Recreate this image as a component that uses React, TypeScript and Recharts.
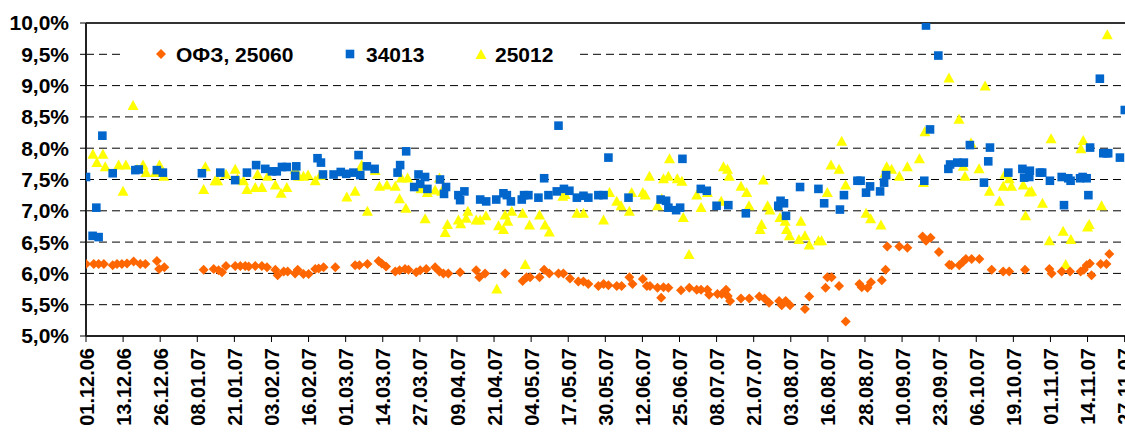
import { CartesianGrid, ReferenceLine, Scatter, ScatterChart, XAxis, YAxis } from 'recharts';

// axis labels (one tick per ~13 days, evenly spaced as in the source chart)
const dateLabels = [
  '01.12.06', '13.12.06', '26.12.06', '08.01.07', '21.01.07', '03.02.07', '16.02.07',
  '01.03.07', '14.03.07', '27.03.07', '09.04.07', '21.04.07', '04.05.07', '17.05.07',
  '30.05.07', '12.06.07', '25.06.07', '08.07.07', '21.07.07', '03.08.07', '16.08.07',
  '28.08.07', '10.09.07', '23.09.07', '06.10.07', '19.10.07', '01.11.07', '14.11.07',
  '27.11.07',
];
const TICK_STEP = 12.93;
const xTicks = dateLabels.map((_, i) => i * TICK_STEP);
const yTicks = [5, 5.5, 6, 6.5, 7, 7.5, 8, 8.5, 9, 9.5, 10];

// [position in days from 01.12.06, yield %]
const ofz25060: [number, number][] = [
  [0, 6.15], [2.7, 6.15], [4.4, 6.15], [6.2, 6.15], [9.3, 6.13], [10.8, 6.15], [12.5, 6.15], [14.3, 6.16],
  [16.6, 6.19], [18.9, 6.15], [20.7, 6.15], [24.7, 6.2], [25.5, 6.07], [27.3, 6.1],
  [41, 6.06], [44.5, 6.07], [46.2, 6.05], [47.4, 6.02], [48.8, 6.12], [52, 6.12], [53.8, 6.12], [55.5, 6.12],
  [56.7, 6.11], [59, 6.12], [61.3, 6.12], [63.1, 6.1], [66, 6.06], [66.8, 5.97], [68.9, 6.03], [70.3, 6.03],
  [72.9, 6.0], [73.8, 6.06], [75.8, 5.99], [77.6, 5.99], [79.9, 6.07], [81.1, 6.08], [82.8, 6.1], [86.9, 6.1],
  [93.8, 6.13], [95.3, 6.13], [98.1, 6.15], [102, 6.2], [103.1, 6.16], [104.6, 6.11], [107.8, 6.03], [109.3, 6.05],
  [111.2, 6.07], [112.4, 6.06], [115.1, 6.02], [116.5, 6.05], [118.6, 6.07], [121.7, 6.1], [123.2, 6.03],
  [124.6, 6.0], [126.3, 6.0], [130.4, 6.02], [136, 6.05], [137.1, 5.94], [139.1, 6.0], [146.1, 6.0],
  [152.2, 5.88], [153.6, 5.94], [154.8, 5.94], [158.1, 5.94], [159.7, 6.06], [161.5, 6.0], [164.7, 6.0],
  [166.4, 6.0], [168.7, 5.92], [171.6, 5.87], [173.4, 5.87], [175.1, 5.83], [178.6, 5.8],
  [180.4, 5.83], [182.1, 5.81], [185, 5.8], [186.7, 5.8], [189.4, 5.94], [190.5, 5.83], [194.1, 5.91],
  [195.5, 5.8], [196.6, 5.8], [199.2, 5.77], [200.5, 5.61], [201.3, 5.78], [203, 5.77], [207.4, 5.73],
  [210.3, 5.77], [212.9, 5.74], [214.4, 5.74], [216.6, 5.74], [217.2, 5.66], [220.1, 5.67], [221.6, 5.67],
  [223.1, 5.74], [223.7, 5.64], [224.5, 5.56], [228.3, 5.6], [231.2, 5.6], [234.7, 5.63], [236.5, 5.6],
  [238.1, 5.53], [241.6, 5.56], [242.5, 5.49], [243.9, 5.56], [245.4, 5.49], [250.6, 5.43], [252.1, 5.63],
  [257.8, 5.77], [258.4, 5.94], [259.9, 5.94], [262.5, 5.8], [264.8, 5.23], [269.6, 5.83],
  [270.4, 5.78], [272.4, 5.77], [273.6, 5.86], [277.4, 5.89], [278.7, 6.06], [279.3, 6.43], [283.5, 6.43],
  [286.3, 6.41], [291.6, 6.59], [292.8, 6.52], [294.4, 6.57], [297.3, 6.34], [300.9, 6.14], [301.7, 6.13],
  [304.4, 6.13], [305.8, 6.19], [306.7, 6.23], [308.7, 6.23], [311.4, 6.23], [315.7, 6.06], [319.7, 6.03],
  [321.8, 6.03], [327.3, 6.06], [335.8, 6.07], [336.6, 6.0], [340.1, 6.03], [343, 6.03], [346.7, 6.03],
  [347.8, 6.06], [348.8, 6.13], [349.9, 6.16], [350.5, 5.97], [353.7, 6.15], [355.7, 6.15], [356.7, 6.31],
];

const ofz34013: [number, number][] = [
  [0, 7.54], [2.3, 6.6], [3.6, 7.05], [4.4, 6.58], [5.7, 8.2], [9.3, 7.6], [17.2, 7.65], [18.4, 7.66],
  [24.7, 7.65], [26.8, 7.61], [40.4, 7.6], [46.8, 7.61], [52, 7.49], [56.1, 7.61], [59.3, 7.73], [62.5, 7.67],
  [64.8, 7.63], [66.5, 7.63], [68.3, 7.7], [70, 7.7], [72.9, 7.56], [73.3, 7.71], [80.7, 7.84], [81.9, 7.77],
  [82.6, 7.58], [86.3, 7.58], [88.8, 7.62],
  [90.7, 7.59], [93.2, 7.61], [95, 7.89], [95.6, 7.57], [97.9, 7.71], [100.6, 7.67], [108.6, 7.61],
  [109.5, 7.73], [111.6, 7.95], [114.4, 7.38], [115.9, 7.58], [116.5, 7.43], [118.2, 7.54], [119, 7.35],
  [123.4, 7.5], [124.8, 7.27], [125.5, 7.38], [129.8, 7.25], [130.4, 7.17], [131.9, 7.31], [137.4, 7.18],
  [139.5, 7.15], [143, 7.18], [145.5, 7.28], [146.7, 7.25], [148.1, 7.15], [151.9, 7.18], [152.7, 7.25],
  [154.2, 7.25], [157.7, 7.21], [159.7, 7.52], [161.2, 7.25], [164.1, 7.31], [164.7, 8.36], [166.6, 7.35],
  [168.5, 7.32], [171.1, 7.21], [173.4, 7.24], [175.1, 7.21], [178.6, 7.25],
  [180.4, 7.25], [182.1, 7.85], [189.1, 7.21], [200.3, 7.18], [202.2, 7.16], [203, 7.05], [205.7, 7.01],
  [207.1, 7.05], [207.9, 7.83], [214.3, 7.35], [216.4, 7.32], [219.8, 7.08], [223.9, 7.09], [230, 6.96],
  [241.3, 7.08], [242.1, 7.16], [243.3, 7.12], [244, 6.92], [248.9, 7.38], [255.3, 7.35], [257.3, 7.12],
  [262.8, 7.02], [264.2, 7.25], [268.9, 7.48], [270, 7.48],
  [271.9, 7.29], [273.3, 7.39], [276.8, 7.31], [278.2, 7.45], [278.9, 7.57], [292.2, 7.48], [292.8, 9.96],
  [294.2, 8.3], [297.1, 9.48], [300.6, 7.67], [301.2, 7.74], [303.7, 7.77], [306, 7.77], [308.1, 8.05],
  [313, 7.45], [314.5, 7.79], [315.1, 8.01], [321.5, 7.61], [326.4, 7.67], [327, 7.53], [328.8, 7.54],
  [329, 7.64], [332.5, 7.61], [333.3, 7.61], [336, 7.48], [340.1, 7.54], [340.9, 7.09], [342.4, 7.52],
  [343.2, 7.48], [346.5, 7.52], [347.4, 7.54], [348.8, 7.52], [349.4, 7.25], [350, 8.01], [353.4, 9.11],
  [354.6, 7.92], [355.7, 7.92], [356.3, 7.92], [360.4, 7.85], [362.1, 8.61],
];

const ofz25012: [number, number][] = [
  [2.4, 7.91], [3.8, 7.78], [5.9, 7.91], [6.7, 7.71], [11.4, 7.74], [12.9, 7.32], [13.9, 7.74], [16.4, 8.69],
  [17.8, 7.67], [19.9, 7.74], [20.9, 7.62], [24.2, 7.62], [25.6, 7.74], [27.1, 7.56], [41, 7.35], [41.6, 7.71],
  [45, 7.49], [45.9, 7.49], [48.8, 7.59], [52, 7.67], [52.8, 7.52], [54.9, 7.49], [56.1, 7.35], [59, 7.38],
  [59.8, 7.59], [61.3, 7.38], [63.3, 7.56], [66, 7.42], [68, 7.29], [70, 7.38], [72.9, 7.67], [74.1, 7.56],
  [75.8, 7.56], [77.4, 7.58], [79.9, 7.49], [81.6, 7.57],
  [90.9, 7.23], [93.8, 7.32], [95.3, 7.65], [96.1, 7.74], [98.1, 7.0], [100.8, 7.65], [102.3, 7.4],
  [104.9, 7.42], [107.8, 7.4], [109.3, 7.2], [109.9, 7.53], [111.5, 7.05], [112.1, 7.53], [116.7, 7.36],
  [118.2, 6.88], [119, 7.3], [121.7, 7.34], [123.2, 7.53], [124, 7.32], [125.2, 6.66], [126, 6.79],
  [129.8, 6.86], [130.6, 6.8], [132.5, 6.89], [133.1, 7.0], [136, 6.86], [137.4, 6.86], [139.4, 6.93],
  [143.2, 5.76], [143.8, 6.77], [145.5, 6.71], [146.1, 6.94], [147, 6.84], [148.4, 7.0], [152.2, 6.97],
  [153.1, 6.15], [154.6, 6.78], [158.1, 6.94], [160, 6.78], [161.5, 6.67], [166.2, 7.24], [167, 7.27],
  [171.1, 6.97], [173.4, 6.97], [180.4, 6.86],
  [182.5, 7.3], [185, 7.16], [186.5, 7.09], [189.4, 7.0], [190.2, 7.3], [194.1, 7.3], [194.9, 7.26],
  [196.4, 7.56], [199.2, 7.09], [200.7, 7.2], [201.3, 7.52], [203, 7.56], [203.4, 7.84], [206.1, 7.52],
  [207.7, 7.48], [208.2, 6.9], [210.2, 6.31], [212.9, 7.26], [214.4, 7.06], [216.6, 7.3], [221.4, 7.16],
  [222.2, 7.71], [223.6, 7.67], [224.2, 7.56], [228.3, 7.4], [230.3, 7.3], [231.1, 7.09], [235, 6.71],
  [235.5, 6.79], [236.1, 7.5], [237.6, 7.09], [238.4, 7.02], [241.9, 6.9], [243.7, 6.84], [244.2, 6.71],
  [245.2, 6.61], [248.5, 6.55], [249.2, 6.84], [250.6, 6.61], [252.1, 6.46], [255.3, 6.53], [256.4, 6.53],
  [258.4, 7.3], [259.7, 7.74], [262.5, 7.67], [263.4, 8.12], [264.8, 7.42],
  [271.9, 6.97], [273.5, 6.88], [277.1, 6.78], [278.5, 7.61], [279.1, 7.71], [280.8, 7.67], [283.5, 7.56],
  [286.3, 7.71], [290.5, 7.84], [291.9, 7.46], [292.4, 8.27], [300.8, 9.13], [304.3, 8.47], [305.8, 7.72],
  [306.4, 7.56], [308.5, 8.09], [311.3, 7.68], [313.4, 9.0], [314.9, 7.32], [318.4, 7.16], [319.7, 7.4],
  [320.3, 7.59], [321.8, 7.52], [322.6, 7.4], [326.7, 7.42], [327.5, 6.93], [328.8, 7.31], [329.6, 7.32],
  [333.4, 7.13], [335.8, 6.53], [336.4, 8.16], [340.6, 6.68], [341.5, 6.15], [343.3, 6.55], [346.8, 8.0],
  [347.6, 8.13], [349.1, 6.75], [349.7, 6.79], [354, 7.09], [356, 9.82],
];

const ORANGE = '#FF6600';
const BLUE = '#0066CC';
const YELLOW = '#FFFF00';
const FONT = '"Liberation Sans", Arial, sans-serif';

const toPoints = (rows: [number, number][]) => rows.map(([x, y]) => ({ x, y }));

const diamondPath = (cx: number, cy: number, r: number) =>
  `M${cx},${cy - r}L${cx + r},${cy}L${cx},${cy + r}L${cx - r},${cy}Z`;
const squarePath = (cx: number, cy: number, h: number) =>
  `M${cx - h},${cy - h}H${cx + h}V${cy + h}H${cx - h}Z`;
const trianglePath = (cx: number, cy: number, w: number, h: number) =>
  `M${cx},${cy - h / 2}L${cx + w / 2},${cy + h / 2}L${cx - w / 2},${cy + h / 2}Z`;

const Diamond = (props: any) => <path d={diamondPath(props.cx, props.cy, 5)} fill={ORANGE} />;
const Square = (props: any) => <path d={squarePath(props.cx, props.cy, 4.3)} fill={BLUE} />;
const Triangle = (props: any) => <path d={trianglePath(props.cx, props.cy, 11, 10)} fill={YELLOW} />;

const XTick = (props: any) => {
  const { x, y, payload } = props;
  const label = dateLabels[Math.round(payload.value / TICK_STEP)];
  return (
    <text
      x={x}
      y={y}
      transform={`rotate(-90 ${x} ${y})`}
      textAnchor="end"
      dy="0.38em"
      fontFamily={FONT}
      fontWeight="bold"
      fontSize={20}
      fill="#000"
    >
      {label}
    </text>
  );
};

const legendItems = [
  { name: 'ОФЗ, 25060', marker: 'diamond', mx: 38, tx: 53 },
  { name: '34013', marker: 'square', mx: 227, tx: 243 },
  { name: '25012', marker: 'triangle', mx: 358, tx: 372 },
];

const ChartLegend = () => (
  <svg width={454} height={36} style={{ position: 'absolute', left: 123, top: 36, background: '#fff' }}>
    {legendItems.map((item) => (
      <g key={item.name}>
        {item.marker === 'diamond' && <path d={diamondPath(item.mx, 18, 5)} fill={ORANGE} />}
        {item.marker === 'square' && <path d={squarePath(item.mx, 18, 4.3)} fill={BLUE} />}
        {item.marker === 'triangle' && <path d={trianglePath(item.mx, 18, 11, 10)} fill={YELLOW} />}
        <text x={item.tx} y={18} dy="0.36em" fontFamily={FONT} fontWeight="bold" fontSize={21} fill="#000">
          {item.name}
        </text>
      </g>
    ))}
  </svg>
);

export default function App() {
  return (
    <div style={{ position: 'absolute', left: 0, top: 0, width: 1125, height: 436, overflow: 'hidden', background: '#fff' }}>
      <ScatterChart width={1140} height={436} margin={{ top: 23, right: 4, bottom: 0, left: 0 }}>
        <CartesianGrid vertical={false} stroke="#000" strokeDasharray="8 5" />
        <XAxis
          type="number"
          dataKey="x"
          domain={[0, 366]}
          ticks={xTicks}
          interval={0}
          height={100}
          tick={<XTick />}
          tickSize={6}
          tickMargin={6}
          axisLine={{ stroke: '#222', strokeWidth: 2 }}
          tickLine={{ stroke: '#000' }}
          allowDataOverflow
        />
        <YAxis
          type="number"
          dataKey="y"
          domain={[5, 10]}
          ticks={yTicks}
          interval={0}
          width={86}
          tickFormatter={(v: number) => `${v.toFixed(1).replace('.', ',')}%`}
          tick={{ fill: '#000', fontSize: 21, fontWeight: 'bold', fontFamily: FONT }}
          tickSize={6}
          tickMargin={11}
          axisLine={{ stroke: '#222', strokeWidth: 2 }}
          tickLine={{ stroke: '#000' }}
          allowDataOverflow
        />
        <ReferenceLine y={10} stroke="#333" strokeWidth={2} />
        <Scatter data={toPoints(ofz25012)} shape={Triangle} isAnimationActive={false} />
        <Scatter data={toPoints(ofz34013)} shape={Square} isAnimationActive={false} />
        <Scatter data={toPoints(ofz25060)} shape={Diamond} isAnimationActive={false} />
      </ScatterChart>
      <ChartLegend />
    </div>
  );
}
